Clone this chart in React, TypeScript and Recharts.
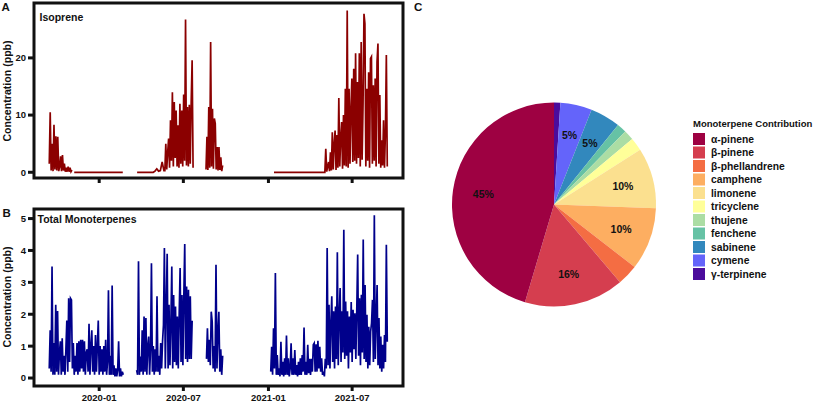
import React from 'react';
import { LineChart, Line, XAxis, YAxis, ReferenceArea, PieChart, Pie, Cell } from 'recharts';

// ---------- Panel A: isoprene (ppb), runs of evenly spaced readings ----------
const isoAutumn2019 = [1.5, 10.5, 0.3, 5, 0.2, 8.3, 0.5, 6.3, 0.3, 6.2, 0.2, 1.0, 2.8, 0.2, 3.0, 0.3, 1.5, 0.1, 0.8, 0.1, 1.0, 0.1, 0.8, 0.1, 0.4];
const isoWinter2020 = [0, 0, 0, 0];
const isoSpring2020 = [0, 0, 0, 0, 0, 0, 0, 0, 0, 0, 0.2, 0.6, 0.2, 0.3, 1.8, 0.3];
const isoSummer2020 = [0.3, 5.0, 0.5, 3.5, 5.9, 0.8, 9.1, 2.0, 14.0, 1.0, 12.3, 2.5, 10.8, 1.0, 8.2, 0.8, 12.0, 1.5, 10.8, 1.0, 13.6, 2.0, 26.7, 1.2, 11.4, 1.0, 11.8, 1.5, 12.3, 19.6, 0.8];
const isoLateSummer2020 = [0.5, 6.2, 0.4, 11.4, 0.8, 22.8, 1.0, 11.1, 0.6, 9.4, 8.5, 0.5, 4.4, 0.3, 4.4, 0.4, 2.6, 0.2, 1.2];
const isoWinter2021 = [0, 0, 0, 0];
const isoSummer2021 = [4.1, 0.1, 1.0, 1.8, 0.2, 3.5, 0.3, 7.0, 0.5, 5.0, 7.3, 0.4, 6.5, 0.8, 13.0, 1.0, 6.0, 8.8, 0.6, 10.0, 1.2, 14.6, 1.0, 28.3, 0.8, 14.6, 1.5, 11.1, 16.4, 1.8, 18.1, 2.0, 20.8, 1.5, 15.8, 2.5, 20.8, 1.0, 22.8, 2.2, 12.0, 27.7, 26.0, 1.0, 14.6, 2.0, 17.5, 0.8, 19.9, 20.2, 1.5, 15.2, 2.0, 16.4, 1.0, 19.3, 22.5, 1.5, 13.5, 0.8, 5.6, 1.2, 9.1, 0.8, 6.8, 20.5, 1.0];

const isopreneRuns = [
  { start: '2019-09-15', end: '2019-11-03', values: isoAutumn2019 },
  { start: '2019-11-08', end: '2020-02-21', values: isoWinter2020 },
  { start: '2020-03-23', end: '2020-05-20', values: isoSpring2020 },
  { start: '2020-05-22', end: '2020-07-22', values: isoSummer2020 },
  { start: '2020-08-19', end: '2020-09-24', values: isoLateSummer2020 },
  { start: '2021-01-13', end: '2021-05-03', values: isoWinter2021 },
  { start: '2021-05-05', end: '2021-09-15', values: isoSummer2021 },
];

// ---------- Panel B: total monoterpenes (ppb) ----------
const mtAutumn2019 = [0.3, 1.5, 0.2, 3.5, 0.1, 1.1, 0.1, 2.3, 0.2, 2.1, 0.1, 0.8, 1.15, 0.1, 1.25, 0.2, 0.7, 0.1, 0.9, 1.8, 0.2, 2.5, 0.5, 2.5, 2.45, 0.3, 1.1, 0.1, 0.7, 0.2, 1.1, 0.1, 1.15, 0.2, 1.2, 0.3, 1.2, 0.2, 1.15, 0.1, 0.8, 0.9, 0.2, 1.7, 0.1, 1.0, 1.5, 0.2, 1.0, 0.1, 1.35, 0.2, 1.0, 1.8, 0.1, 1.0, 0.2, 0.9, 0.1, 1.0, 0.2, 1.2, 0.1, 0.5, 2.75, 0.1, 0.7, 0.1, 2.9, 0.1, 0.4, 0.05, 0.3, 0.05, 0.25, 1.15, 0.05, 0.3, 0.05, 0.2, 0.1];
const mtSpring2020 = [0.25, 0.1, 3.66, 0.1, 0.67, 0.2, 1.5, 0.1, 1.93, 0.2, 1.88, 0.1, 1.0, 1.3, 0.1, 0.9, 3.6, 0.2, 1.0, 0.1, 0.9, 0.2, 2.56, 0.2, 0.7, 0.1, 1.1, 0.3, 1.15, 1.67, 4.08, 0.3, 2.2, 3.9, 0.3, 2.3, 0.4, 1.67, 3.5, 0.3, 2.6, 0.5, 2.24, 0.4, 1.93, 0.3, 1.98, 3.45, 0.5, 2.6, 0.4, 2.56, 4.2, 0.6, 2.87, 0.5, 2.77, 0.6, 2.56, 0.6, 1.8];
const mtLateSummer2020 = [0.6, 1.56, 0.5, 1.2, 0.4, 2.08, 1.77, 0.3, 1.0, 0.2, 3.55, 0.3, 1.4, 2.08, 0.2, 0.9, 0.1, 0.7];
const mtYear2021 = [0.2, 0.98, 0.1, 1.56, 0.3, 3.29, 0.1, 0.72, 0.1, 0.3, 0.05, 1.14, 0.1, 0.51, 0.05, 0.62, 0.1, 1.33, 0.1, 0.62, 0.05, 0.3, 1.09, 0.1, 0.62, 0.1, 0.88, 0.1, 0.41, 0.05, 0.51, 0.1, 0.62, 0.1, 0.72, 0.2, 1.58, 0.1, 0.51, 0.1, 1.04, 0.15, 0.6, 0.1, 0.6, 0.2, 1.04, 1.09, 0.2, 1.06, 0.2, 1.17, 0.3, 0.98, 0.2, 0.62, 0.1, 0.2, 0.05, 0.6, 0.3, 4.08, 0.4, 2.3, 0.3, 1.72, 2.56, 0.5, 2.09, 0.3, 2.24, 0.6, 3.94, 0.4, 1.88, 2.82, 0.5, 2.09, 0.8, 4.65, 0.6, 2.4, 0.7, 2.09, 0.3, 1.93, 0.8, 2.38, 0.5, 2.14, 0.9, 2.03, 0.6, 2.09, 3.87, 0.7, 2.5, 0.4, 2.61, 0.8, 4.34, 0.6, 2.92, 0.5, 1.98, 0.3, 1.61, 0.4, 1.46, 1.72, 2.45, 0.5, 5.1, 0.6, 1.77, 2.92, 0.4, 1.88, 0.3, 1.3, 0.2, 1.04, 0.3, 1.35, 0.5, 4.18, 1.14];

const monoterpeneRuns = [
  { start: '2019-09-15', end: '2020-02-22', values: mtAutumn2019 },
  { start: '2020-03-22', end: '2020-07-20', values: mtSpring2020 },
  { start: '2020-08-20', end: '2020-09-24', values: mtLateSummer2020 },
  { start: '2021-01-06', end: '2021-09-15', values: mtYear2021 },
];

const dateTicks = ['2020-01-01', '2020-07-01', '2021-01-01', '2021-07-01'];
const domainDates = ['2019-08-13', '2021-10-19'];
const isoTicks = [0, 10, 20];
const mtTicks = [0, 1, 2, 3, 4, 5];

// ---------- Panel C: monoterpene contribution (%) ----------
const compoundNames = ['α-pinene', 'β-pinene', 'β-phellandrene', 'camphene', 'limonene', 'tricyclene', 'thujene', 'fenchene', 'sabinene', 'cymene', 'γ-terpinene'];
const compoundShares = [45.4, 15.8, 3.3, 9.9, 9.6, 2.1, 1.6, 1.5, 4.8, 5.0, 1.0];
const compoundColors = ['#9e0142', '#d53e4f', '#f46d43', '#fdae61', '#fbe08f', '#ffff99', '#abdda4', '#66c2a5', '#3288bd', '#6464fa', '#4b0c9c'];

const FONT = '"Liberation Sans", Arial, Helvetica, sans-serif';

const dayNum = (s: string) => {
  const [y, m, d] = s.split('-').map(Number);
  return Date.UTC(y, m - 1, d) / 86400000;
};

function buildSeries(runs: { start: string; end: string; values: number[] }[]) {
  const pts: { t: number; v: number | null }[] = [];
  let prevEnd = -Infinity;
  runs.forEach((r) => {
    const s = dayNum(r.start);
    const e = dayNum(r.end);
    const n = r.values.length;
    if (pts.length && s - prevEnd > 3) pts.push({ t: (s + prevEnd) / 2, v: null });
    r.values.forEach((v, i) => pts.push({ t: s + (n > 1 ? ((e - s) * i) / (n - 1) : 0), v }));
    prevEnd = e;
  });
  return pts;
}

const isoData = buildSeries(isopreneRuns);
const mtData = buildSeries(monoterpeneRuns);
const xDomain = [dayNum(domainDates[0]), dayNum(domainDates[1])];
const xTicks = dateTicks.map(dayNum);
const fmtDate = (t: number) => {
  const d = new Date(t * 86400000);
  return `${d.getUTCFullYear()}-${String(d.getUTCMonth() + 1).padStart(2, '0')}`;
};

const tickStyle = { fontSize: 9.5, fontWeight: 700, fill: '#111', fontFamily: FONT };
const tickLineStyle = { stroke: '#111', strokeWidth: 3 };

const pieData = compoundNames
  .map((name, i) => ({ name, value: compoundShares[i], color: compoundColors[i] }))
  .reverse();

const RAD = Math.PI / 180;
const renderPieLabel = (p: any) => {
  if (p.value < 4.5) return null;
  const r = p.outerRadius * 0.7;
  const x = p.cx + r * Math.cos(-p.midAngle * RAD);
  const y = p.cy + r * Math.sin(-p.midAngle * RAD);
  return (
    <text x={x} y={y} textAnchor="middle" dominantBaseline="central" fontSize={10.5} fontWeight={700} fill="#111" fontFamily={FONT}>
      {`${Math.round(p.value)}%`}
    </text>
  );
};

export default function App() {
  return (
    <div style={{ position: 'absolute', left: 0, top: 0, width: 813, height: 403, background: '#fff', fontFamily: FONT }}>
      <div style={{ position: 'absolute', left: 0, top: 0 }}>
        <LineChart width={410} height={192} data={isoData} margin={{ top: 3, right: 7, left: 0, bottom: 0 }}>
          <XAxis dataKey="t" type="number" domain={xDomain} ticks={xTicks} tickFormatter={() => ''} axisLine={false} tickLine={tickLineStyle} tickSize={5} height={14} />
          <YAxis type="number" domain={[-1, 29.6]} ticks={isoTicks} axisLine={false} tickLine={tickLineStyle} tickSize={6} width={34} tick={tickStyle} />
          <Line dataKey="v" stroke="#8b0000" strokeWidth={1.7} dot={false} isAnimationActive={false} connectNulls={false} />
          <ReferenceArea x1={xDomain[0]} x2={xDomain[1]} y1={-1} y2={29.6} fill="none" stroke="#111" strokeWidth={3} ifOverflow="visible" />
        </LineChart>
      </div>
      <div style={{ position: 'absolute', left: 0, top: 195 }}>
        <LineChart width={410} height={208} data={mtData} margin={{ top: 14, right: 7, left: 0, bottom: 0 }}>
          <XAxis dataKey="t" type="number" domain={xDomain} ticks={xTicks} tickFormatter={fmtDate} axisLine={false} tickLine={tickLineStyle} tickSize={5} tickMargin={3} height={17} tick={tickStyle} />
          <YAxis type="number" domain={[-0.25, 5.3]} ticks={mtTicks} axisLine={false} tickLine={tickLineStyle} tickSize={6} width={34} tick={tickStyle} />
          <Line dataKey="v" stroke="#00008b" strokeWidth={1.7} dot={false} isAnimationActive={false} connectNulls={false} />
          <ReferenceArea x1={xDomain[0]} x2={xDomain[1]} y1={-0.25} y2={5.3} fill="none" stroke="#111" strokeWidth={3} ifOverflow="visible" />
        </LineChart>
      </div>
      <div style={{ position: 'absolute', left: 434, top: 84 }}>
        <PieChart width={230} height={232}>
          <Pie data={pieData} dataKey="value" nameKey="name" cx={115} cy={115.5} outerRadius={102} startAngle={90} endAngle={-270} stroke="none" label={renderPieLabel} labelLine={false} isAnimationActive={false}>
            {pieData.map((d) => (
              <Cell key={d.name} fill={d.color} />
            ))}
          </Pie>
        </PieChart>
      </div>
      <svg width={813} height={403} style={{ position: 'absolute', left: 0, top: 0, pointerEvents: 'none' }} fontFamily={FONT} fontWeight={700}>
        <text x={1.5} y={11} fontSize={11.5} fill="#111">A</text>
        <text x={2.5} y={217} fontSize={11.5} fill="#111">B</text>
        <text x={414} y={10.5} fontSize={11.5} fill="#111">C</text>
        <text x={39.5} y={20.5} fontSize={10.5} fill="#111">Isoprene</text>
        <text x={37.5} y={223.3} fontSize={10.5} fill="#111">Total Monoterpenes</text>
        <text transform="translate(11.2,91) rotate(-90)" textAnchor="middle" fontSize={10.6} fill="#111">Concentration (ppb)</text>
        <text transform="translate(11.2,297) rotate(-90)" textAnchor="middle" fontSize={10.6} fill="#111">Concentration (ppb)</text>
        <text x={693} y={127.3} fontSize={9.5} fill="#111">Monoterpene Contribution</text>
        {compoundNames.map((name, i) => (
          <g key={name}>
            <rect x={693} y={133 + i * 13.5} width={12} height={12} fill={compoundColors[i]} />
            <text x={711} y={139 + i * 13.5} dominantBaseline="central" fontSize={10.3} fill="#111">{name}</text>
          </g>
        ))}
      </svg>
    </div>
  );
}
